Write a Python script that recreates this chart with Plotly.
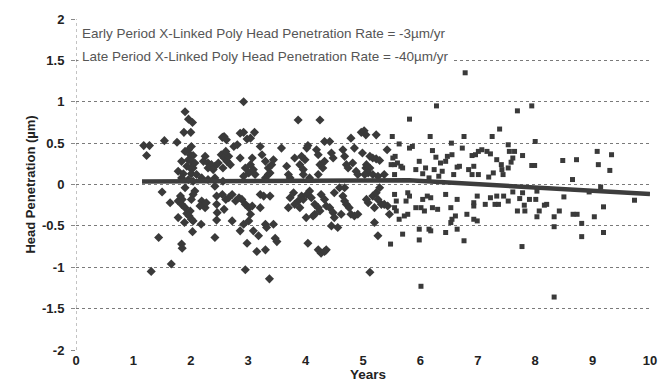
import plotly.graph_objects as go

# Early period points (diamonds)
early_x = [1.18,1.28,1.23,1.54,1.76,1.90,1.96,2.03,1.88,2.00,2.55,2.01,1.96,1.90,1.99,2.04,1.84,1.96,2.01,2.07,
           1.93,1.99,2.04,1.78,1.87,2.01,2.10,1.84,1.96,2.04,1.90,2.25,2.22,2.30,2.36,2.42,2.30,2.53,2.48,2.56,
           2.39,2.19,2.30,2.42,2.56,1.50,1.64,1.82,1.85,1.78,1.84,1.90,1.99,1.93,1.97,2.01,2.04,2.07,2.04,2.01,
           2.19,2.22,2.25,2.16,2.27,2.42,2.45,2.45,2.46,2.45,1.78,1.89,2.03,2.18,1.44,1.84,1.85,2.42,1.66,1.31,
           2.92,3.87,4.25,2.58,2.62,2.75,2.81,2.86,2.92,2.98,3.04,3.11,2.58,2.63,2.69,2.66,2.61,2.86,2.95,3.04,
           3.07,3.01,2.92,3.09,3.12,3.21,3.24,3.30,3.35,3.41,3.44,3.35,3.30,3.38,3.58,3.67,3.70,3.73,3.81,3.90,
           3.96,3.99,4.02,4.04,3.93,3.96,4.07,4.19,4.22,4.25,4.30,4.33,4.22,4.33,4.42,4.45,4.48,4.65,4.68,4.71,
           4.74,4.79,4.85,4.82,4.88,4.91,4.97,5.02,5.05,4.99,5.05,2.55,2.61,2.66,2.72,2.78,2.84,2.89,2.95,3.01,
           3.07,2.72,2.58,3.21,3.27,3.38,3.21,3.04,2.86,2.92,3.01,3.09,3.18,2.98,3.15,3.30,3.30,3.32,3.44,3.47,
           3.50,3.70,3.73,3.79,3.87,3.81,3.90,3.93,3.96,4.02,4.07,4.10,4.16,4.22,4.25,4.16,4.01,4.13,4.27,4.33,
           4.36,4.42,4.48,4.50,4.45,4.56,4.50,4.59,4.65,4.68,4.71,4.76,4.79,4.85,4.91,4.62,4.68,4.04,4.22,4.27,
           4.33,4.36,2.95,3.37,5.23,5.42,5.23,5.29,5.17,5.12,5.06,5.12,5.09,5.17,5.26,5.37,5.03,5.09,5.17,5.23,
           5.26,5.32,5.37,5.43,5.29,5.06,5.20,5.46,5.20,5.26,5.12]
early_y = [0.47,0.47,0.35,0.53,0.51,0.88,0.79,0.75,0.63,0.63,0.57,0.46,0.42,0.40,0.36,0.35,0.28,0.30,0.28,0.26,
           0.22,0.20,0.20,0.16,0.13,0.13,0.12,0.08,0.06,0.04,-0.04,0.34,0.28,0.26,0.24,0.22,0.20,0.36,0.26,0.20,
           0.18,0.08,0.06,0.08,0.04,-0.09,-0.22,-0.14,-0.18,-0.20,-0.24,-0.28,-0.32,-0.35,-0.38,-0.42,-0.44,-0.08,-0.12,-0.18,
           -0.20,-0.24,-0.28,-0.26,-0.22,-0.02,-0.14,-0.24,-0.34,-0.43,-0.40,-0.46,-0.57,-0.48,-0.64,-0.72,-0.77,-0.64,-0.96,-1.05,
           1.00,0.78,0.78,0.58,0.54,0.46,0.48,0.62,0.63,0.55,0.56,0.63,0.32,0.28,0.24,0.34,0.40,0.32,0.20,0.24,
           0.32,0.14,0.10,0.18,0.12,0.46,0.36,0.28,0.20,0.24,0.30,0.12,0.08,0.14,0.44,0.22,0.12,0.08,0.32,0.24,
           0.18,0.30,0.44,0.47,0.34,0.12,0.08,0.42,0.36,0.24,0.20,0.28,0.12,0.52,0.52,0.38,0.32,0.42,0.34,0.24,
           0.20,0.56,0.44,0.26,0.16,0.12,0.63,0.65,0.60,0.38,0.20,-0.12,-0.18,-0.16,-0.12,-0.20,-0.16,-0.18,-0.24,-0.28,
           -0.26,-0.44,-0.30,-0.12,-0.14,-0.14,-0.28,-0.36,-0.56,-0.48,-0.44,-0.56,-0.62,-0.71,-0.81,-0.79,-0.48,-0.52,-0.48,-0.65,
           -0.69,-0.28,-0.16,-0.10,-0.20,-0.24,-0.28,-0.14,-0.18,-0.12,-0.08,-0.16,-0.24,-0.28,-0.32,-0.36,-0.40,-0.38,-0.12,-0.18,
           -0.26,-0.28,-0.34,-0.40,-0.50,-0.52,-0.10,-0.04,-0.14,-0.20,-0.24,-0.28,-0.36,-0.38,-0.36,-0.36,-0.04,-0.71,-0.79,-0.83,
           -0.81,-0.79,-1.03,-1.14,0.60,0.42,0.31,0.29,0.32,0.34,0.24,0.20,0.14,0.12,0.10,0.12,0.12,-0.22,-0.14,-0.10,
           -0.18,-0.24,-0.24,-0.26,-0.04,-0.18,-0.28,-0.36,-0.46,-0.62,-1.06]

# Late period points (squares)
late_x = [5.48,6.78,6.28,5.81,5.51,6.17,6.76,7.25,7.38,5.63,5.81,5.86,6.54,6.21,6.27,6.35,6.44,6.47,6.55,6.58,
          6.64,6.68,6.73,6.90,6.96,7.01,7.07,7.16,7.22,6.93,6.84,6.90,7.01,7.19,7.27,7.33,7.42,7.53,5.98,6.04,
          6.09,5.92,6.15,6.24,6.32,6.38,5.52,5.56,5.55,5.60,5.66,5.49,5.69,5.55,5.55,5.58,5.55,5.58,5.63,5.72,
          5.78,5.78,5.81,5.75,5.92,6.01,6.04,6.12,6.18,6.07,6.21,6.30,6.44,6.53,6.64,6.55,6.53,6.61,6.81,6.93,
          6.93,6.99,6.93,6.99,7.13,7.22,7.33,7.36,7.30,7.45,7.53,5.69,5.98,5.98,6.15,6.18,6.44,6.64,6.76,6.01,
          7.69,7.94,7.53,8.00,7.55,7.64,7.61,7.58,7.78,7.41,7.44,7.94,7.99,8.48,8.72,9.08,9.33,9.10,9.30,8.65,
          9.14,8.94,9.73,8.50,7.61,7.78,8.03,7.73,7.81,7.90,8.01,8.16,8.20,7.69,7.82,8.07,8.03,8.33,8.42,8.33,
          8.66,8.73,8.81,8.81,9.03,9.19,9.19,7.77,8.33]
late_y = [-0.72,1.35,0.95,0.79,0.58,0.58,0.58,0.58,0.67,0.49,0.44,0.46,0.50,0.41,0.33,0.26,0.28,0.34,0.36,0.12,
          0.21,0.22,0.44,0.35,0.36,0.40,0.42,0.40,0.37,0.22,0.18,0.12,0.12,0.09,0.14,0.30,0.18,0.20,0.28,0.13,
          0.20,0.18,0.08,0.18,0.10,0.16,0.32,0.34,0.24,0.26,0.22,0.24,0.20,0.12,-0.12,-0.20,-0.28,-0.32,-0.42,-0.38,
          -0.36,-0.10,-0.14,-0.20,-0.28,-0.28,-0.18,-0.14,-0.16,-0.32,-0.28,-0.30,-0.12,-0.28,-0.18,-0.42,-0.46,-0.38,-0.36,-0.22,
          -0.26,-0.14,-0.42,-0.44,-0.24,-0.16,-0.14,-0.24,-0.24,-0.14,-0.20,-0.60,-0.54,-0.67,-0.54,-0.56,-0.58,-0.54,-0.68,-1.23,
          0.89,0.95,0.48,0.52,0.40,0.40,0.32,0.27,0.35,0.24,0.12,0.23,0.23,0.29,0.30,0.40,0.36,0.24,0.17,0.06,
          -0.03,-0.09,-0.19,-0.15,-0.09,-0.10,-0.08,-0.17,-0.25,-0.18,-0.18,-0.25,-0.24,-0.32,-0.32,-0.32,-0.39,-0.39,-0.32,-0.51,
          -0.36,-0.36,-0.47,-0.63,-0.39,-0.27,-0.58,-0.75,-1.36]

# Trend lines
trend_x = [1.15, 5.8, 10.0]
trend_y = [0.035, 0.05, -0.115]

x_ticks = list(range(0, 11))
y_ticks = [2, 1.5, 1, 0.5, 0, -0.5, -1, -1.5, -2]
y_tick_text = ["2", "1.5", "1", "0.5", "0", "-0.5", "-1", "-1.5", "-2"]

label_early = "Early Period X-Linked Poly Head Penetration Rate = -3µm/yr"
label_late = "Late Period X-Linked Poly Head Penetration Rate = -40µm/yr"

FONT = "Liberation Sans, Arial, sans-serif"
MARK = "#3a3a3a"

fig = go.Figure()
fig.add_trace(go.Scatter(x=early_x, y=early_y, mode="markers",
                         marker=dict(symbol="diamond", size=7, color=MARK), showlegend=False))
fig.add_trace(go.Scatter(x=late_x, y=late_y, mode="markers",
                         marker=dict(symbol="square", size=5, color=MARK), showlegend=False))
fig.add_trace(go.Scatter(x=trend_x, y=trend_y, mode="lines",
                         line=dict(color="#3d3d3d", width=4.5), showlegend=False))

fig.add_shape(type="line", x0=0, x1=0, y0=-2, y1=2, xref="x", yref="y",
              line=dict(color="#888", width=1, dash="dot"), layer="below")

fig.update_layout(
    width=671, height=385,
    margin=dict(l=76, r=21, t=14, b=35),
    paper_bgcolor="white", plot_bgcolor="white",
    font=dict(family=FONT, color="#222"),
    xaxis=dict(range=[0, 10], tickvals=x_ticks, showgrid=False, zeroline=False, showline=False,
               ticks="", ticklabelstandoff=1,
               tickfont=dict(size=13, family=FONT, weight="bold", color="#222")),
    yaxis=dict(range=[-2, 2], tickvals=y_ticks, ticktext=y_tick_text, showgrid=True,
               gridcolor="#7a7a7a", griddash="dot", gridwidth=1, zeroline=False, showline=False,
               ticks="outside", ticklen=4, tickcolor="#888", ticklabelstandoff=4,
               tickfont=dict(size=13, family=FONT, weight="bold", color="#222")),
    annotations=[
        dict(text=label_early, x=0.03, y=1.82, xref="x", yref="y", xanchor="left", yanchor="middle",
             showarrow=False, font=dict(size=13.5, family=FONT, color="#555"),
             bgcolor="white", borderpad=3),
        dict(text=label_late, x=0.03, y=1.55, xref="x", yref="y", xanchor="left", yanchor="middle",
             showarrow=False, font=dict(size=13.5, family=FONT, color="#555"),
             bgcolor="white", borderpad=3),
        dict(text="Head Penetration (µm)", x=-0.08, y=0.5, xref="paper", yref="paper",
             textangle=-90, showarrow=False, xanchor="center", yanchor="middle",
             font=dict(size=13, family=FONT, weight="bold", color="#222")),
        dict(text="Years", x=0.509, y=-0.104, xref="paper", yref="paper",
             showarrow=False, xanchor="center", yanchor="bottom",
             font=dict(size=13.5, family=FONT, weight="bold", color="#222")),
    ],
)

fig.write_html("out.html", config={"displayModeBar": False},
               post_script="document.body.style.margin='0';")
